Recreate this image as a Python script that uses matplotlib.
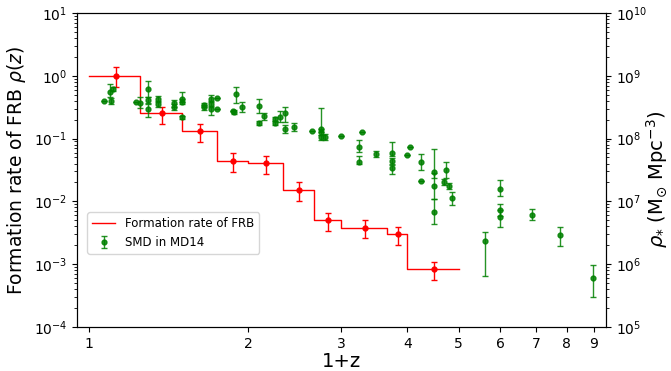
import numpy as np
import matplotlib
matplotlib.use("Agg")
import matplotlib.pyplot as plt
from matplotlib.ticker import FixedLocator, NullLocator, LogLocator, NullFormatter

# ---- FRB formation rate (left axis) ----
frb_edges = [1.0, 1.25, 1.5, 1.75, 2.0, 2.333, 2.667, 3.0, 3.667, 4.0, 5.0]
frb_levels = [1.0, 0.253, 0.13, 0.0446, 0.0404, 0.0152, 0.0050, 0.0038, 0.0030, 0.00083]
frb_x = [1.125, 1.375, 1.625, 1.875, 2.167, 2.5, 2.833, 3.333, 3.833, 4.5]
frb_y = [1.0, 0.253, 0.13, 0.0446, 0.0404, 0.0152, 0.0050, 0.0038, 0.0030, 0.00083]
frb_lo = [0.67, 0.17, 0.087, 0.0297, 0.0273, 0.0102, 0.0034, 0.0026, 0.00203, 0.00056]
frb_hi = [1.36, 0.32, 0.17, 0.058, 0.053, 0.0201, 0.00653, 0.0051, 0.00396, 0.0011]

# ---- Stellar mass density, MD14 (right axis), log10 rho and dex errors ----
smd_x = [1.069, 1.099, 1.096, 1.109, 1.226, 1.248, 1.296, 1.296, 1.296, 1.349,
         1.349, 1.448, 1.448, 1.498, 1.498, 1.498, 1.650, 1.650, 1.701, 1.701,
         1.701, 1.748, 1.748, 1.880, 1.870, 1.896, 1.949, 2.096, 2.096, 2.147,
         2.247, 2.247, 2.297, 2.347, 2.347, 2.444, 2.644, 2.746, 2.746, 2.746,
         2.794, 2.991, 3.291, 3.243, 3.243, 3.487, 3.740, 3.740, 3.740, 4.040,
         3.992, 4.243, 4.243, 4.483, 4.483, 4.483, 4.737, 4.690, 4.793, 4.862,
         5.605, 5.980, 5.980, 5.980, 6.880, 7.770, 8.960]
smd_log = [8.599, 8.603, 8.747, 8.790, 8.588, 8.572, 8.790, 8.619, 8.467, 8.631,
           8.551, 8.562, 8.498, 8.635, 8.588, 8.336, 8.498, 8.530, 8.626, 8.551,
           8.467, 8.642, 8.467, 8.428, 8.440, 8.710, 8.508, 8.524, 8.253, 8.352,
           8.307, 8.253, 8.349, 8.403, 8.148, 8.185, 8.116, 8.158, 8.110, 8.021,
           8.030, 8.046, 8.105, 7.871, 7.632, 7.750, 7.766, 7.643, 7.524, 7.871,
           7.739, 7.632, 7.325, 7.473, 7.245, 6.836, 7.495, 7.304, 7.240, 7.049,
           6.369, 7.193, 6.863, 6.756, 6.788, 6.460, 5.775]
smd_eup = [0.00, 0.05, 0.13, 0.03, 0.00, 0.09, 0.12, 0.05, 0.08, 0.05,
           0.05, 0.06, 0.05, 0.10, 0.04, 0.03, 0.04, 0.03, 0.07, 0.04,
           0.04, 0.00, 0.00, 0.03, 0.00, 0.11, 0.07, 0.10, 0.03, 0.05,
           0.03, 0.03, 0.09, 0.10, 0.07, 0.07, 0.00, 0.33, 0.05, 0.04,
           0.05, 0.00, 0.00, 0.10, 0.09, 0.05, 0.18, 0.05, 0.05, 0.00,
           0.00, 0.13, 0.00, 0.36, 0.20, 0.20, 0.13, 0.05, 0.05, 0.105,
           0.14, 0.15, 0.10, 0.10, 0.09, 0.137, 0.22]
smd_edn = [0.00, 0.05, 0.08, 0.03, 0.00, 0.085, 0.12, 0.05, 0.12, 0.05,
           0.05, 0.06, 0.05, 0.06, 0.04, 0.03, 0.04, 0.03, 0.04, 0.04,
           0.09, 0.00, 0.00, 0.03, 0.00, 0.15, 0.08, 0.12, 0.03, 0.05,
           0.03, 0.03, 0.08, 0.14, 0.065, 0.07, 0.00, 0.05, 0.05, 0.04,
           0.05, 0.00, 0.00, 0.085, 0.04, 0.05, 0.05, 0.05, 0.09, 0.00,
           0.00, 0.14, 0.00, 0.10, 0.20, 0.20, 0.13, 0.05, 0.05, 0.10,
           0.55, 0.10, 0.10, 0.17, 0.085, 0.17, 0.30]

x_ticks = [1, 2, 3, 4, 5, 6, 7, 8, 9]

fig = plt.figure(figsize=(6.71, 3.71), dpi=100)
ax = fig.add_axes([0.1148, 0.1186, 0.7884, 0.8464])

frb_steps = frb_levels + [frb_levels[-1]]
l1, = ax.step(frb_edges, frb_steps, where='post', color='red', lw=1.0,
              label='Formation rate of FRB')
y = np.array(frb_y)
ax.errorbar(frb_x, frb_y, yerr=[y - np.array(frb_lo), np.array(frb_hi) - y],
            fmt='o', color='red', ms=3.5, capsize=2.5, elinewidth=1.0, lw=0)

ax.set_xscale('log')
ax.set_yscale('log')
ax.set_xlim(0.95, 9.5)
ax.set_ylim(1e-4, 10)
ax.xaxis.set_major_locator(FixedLocator(x_ticks))
ax.xaxis.set_minor_locator(NullLocator())
ax.set_xticklabels([str(t) for t in x_ticks])
ax.yaxis.set_major_locator(LogLocator(base=10, numticks=10))
ax.yaxis.set_minor_locator(LogLocator(base=10, subs=np.arange(2, 10), numticks=20))
ax.yaxis.set_minor_formatter(NullFormatter())
ax.tick_params(axis='both', which='major', labelsize=10)
ax.set_xlabel('1+z', fontsize=14, labelpad=1)
ax.set_ylabel(r'Formation rate of FRB $\rho(z)$', fontsize=13.5)

ax2 = ax.twinx()
sl = np.array(smd_log)
rho = 10 ** sl
lo = rho - 10 ** (sl - np.array(smd_edn))
hi = 10 ** (sl + np.array(smd_eup)) - rho
e2 = ax2.errorbar(smd_x, rho, yerr=[lo, hi], fmt='o', color='green', ms=3.5,
                  capsize=2.5, elinewidth=1.0, alpha=0.85, label='SMD in MD14')
ax2.set_yscale('log')
ax2.set_ylim(1e5, 1e10)
ax2.yaxis.set_major_locator(LogLocator(base=10, numticks=10))
ax2.yaxis.set_minor_locator(LogLocator(base=10, subs=np.arange(2, 10), numticks=20))
ax2.yaxis.set_minor_formatter(NullFormatter())
ax2.tick_params(axis='y', which='major', labelsize=10)
ax2.set_ylabel(r'$\rho_{*}$ (M$_{\odot}$ Mpc$^{-3}$)', fontsize=14)
ax2.yaxis.set_label_coords(1.072, 0.47)

ax.legend([l1, e2], ['Formation rate of FRB', 'SMD in MD14'], loc='lower left',
          bbox_to_anchor=(0.008, 0.215), fontsize=8.5, framealpha=0.8)

fig.savefig('out.png', dpi=100)
